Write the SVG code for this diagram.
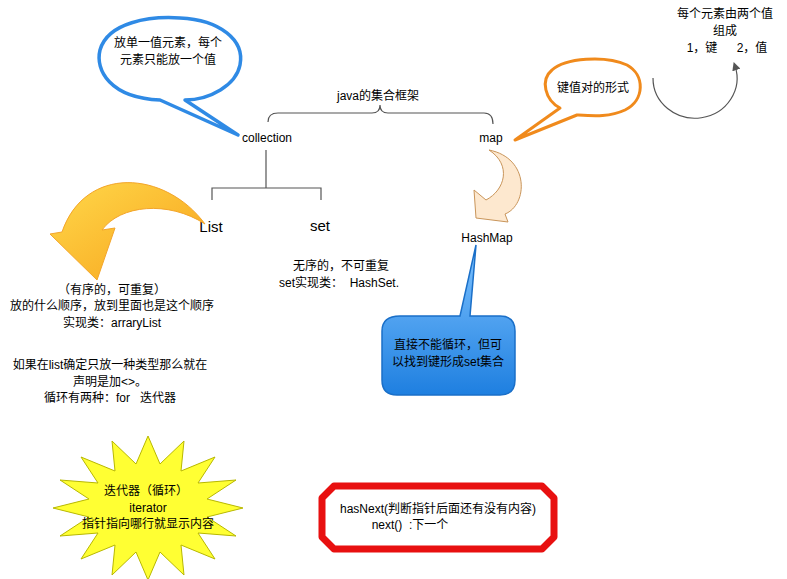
<svg xmlns="http://www.w3.org/2000/svg" width="787" height="579" viewBox="0 0 787 579">
<style>
text{font-family:"Liberation Sans","Noto Sans CJK SC",sans-serif;font-size:12px;fill:#000;text-anchor:middle}
.ln{fill:none;stroke:#555;stroke-width:1.2}
.big{font-size:15px}
</style>
<defs>
<linearGradient id="og" x1="0" y1="0" x2="1" y2="1"><stop offset="0" stop-color="#ffd84a"/><stop offset="1" stop-color="#f7a21b"/></linearGradient>
<linearGradient id="bg" x1="0" y1="0" x2="0" y2="1"><stop offset="0" stop-color="#7fc3ff"/><stop offset="1" stop-color="#1e7fe0"/></linearGradient>
<marker id="ah" viewBox="0 0 10 10" refX="5" refY="5" markerWidth="7" markerHeight="7" orient="auto"><path d="M0,0 L10,5 L0,10 Z" fill="#555"/></marker>
</defs>
<rect width="787" height="579" fill="#fff"/>
<g id="connectors">
<path class="ln" d="M268,122 Q268,113 278,113 L372,113 Q380,113 380,105 Q380,113 388,113 L484,113 Q493,113 493,124"/>
<path class="ln" d="M266,150 L266,188 M212,200 L212,188 L321,188 L321,200"/>
<path class="ln" d="M653,78 A42,40 0 1 0 735,66" marker-end="url(#ah)"/>
</g>
<g id="blue-bubble">
<path d="M160,100 C110,98 95,70 100,50 C108,22 150,16 180,18 C220,20 245,40 240,65 C236,85 210,100 185,100 L238,135 Z" fill="#fff" stroke="#2f8ae5" stroke-width="3.5" stroke-linejoin="round"/>
<text x="168" y="47">放单一值元素，每个</text>
<text x="168" y="64">元素只能放一个值</text>
</g>
<g id="title"><text x="378" y="100">java的集合框架</text></g>
<g id="collection"><text x="267" y="142">collection</text></g>
<g id="map"><text x="491" y="142">map</text></g>
<g id="list"><text class="big" x="211" y="232">List</text></g>
<g id="set"><text class="big" x="320" y="231">set</text></g>
<g id="orange-bubble">
<path d="M560,108 C545,100 540,80 552,70 C565,58 605,55 627,65 C645,75 645,100 625,110 C610,117 595,116 577,115 L515,140 Z" fill="#fff" stroke="#f08a1c" stroke-width="3" stroke-linejoin="round"/>
<text x="593" y="92">键值对的形式</text>
</g>
<g id="kv-note">
<text x="725" y="18">每个元素由两个值</text>
<text x="725" y="35">组成</text>
<text x="702" y="52">1，键</text>
<text x="752" y="52">2，值</text>
</g>
<g id="list-arrow">
<path d="M205,224 C165,170 85,165 62,232 L50,234 L97,280 L115,228 L102,230 C120,205 168,200 205,224 Z" fill="url(#og)" stroke="#f3a52a" stroke-width="1"/>
</g>
<g id="map-arrow">
<path d="M489,150 C530,158 528,205 505,214 L508,222 L476,218 L474,190 L486,200 C505,190 512,165 489,150 Z" fill="#fde8cf" stroke="#c9955a" stroke-width="1"/>
</g>
<g id="hashmap"><text x="487" y="242">HashMap</text></g>
<g id="blue-box">
<path d="M400,316 L460,316 L476,245 L470,316 L500,316 Q515,316 515,331 L515,380 Q515,395 500,395 L397,395 Q382,395 382,380 L382,331 Q382,316 400,316 Z" fill="url(#bg)" stroke="#1a6fc8" stroke-width="1.5"/>
<text x="448" y="349">直接不能循环，但可</text>
<text x="448" y="366">以找到键形成set集合</text>
</g>
<g id="set-note">
<text x="341" y="270">无序的，不可重复</text>
<text x="339" y="287" xml:space="preserve">set实现类：  HashSet.</text>
</g>
<g id="list-note">
<text x="112" y="294">（有序的，可重复）</text>
<text x="112" y="310">放的什么顺序，放到里面也是这个顺序</text>
<text x="112" y="327">实现类：arraryList</text>
<text x="110" y="369">如果在list确定只放一种类型那么就在</text>
<text x="110" y="386">声明是加&lt;&gt;。</text>
<text x="110" y="402" xml:space="preserve">循环有两种：for   迭代器</text>
</g>
<g id="iterator-star">
<polygon points="243,508 207,517 236,536 198,533 215,559 181,545 184,575 160,552 148,580 136,552 112,575 115,545 81,559 98,533 60,536 89,517 53,508 89,499 60,480 98,483 81,457 115,471 112,441 136,464 148,436 160,464 184,441 181,471 215,457 198,483 236,480 207,499" fill="#ffff33" stroke="#b8b800" stroke-width="1"/>
<text x="146" y="495">迭代器（循环）</text>
<text x="148" y="512">iterator</text>
<text x="148" y="528">指针指向哪行就显示内容</text>
</g>
<g id="hasnext-box">
<polygon points="334,486 542,486 554,498 554,537 542,549 334,549 322,537 322,498" fill="#fff" stroke="#e81010" stroke-width="7" stroke-linejoin="round"/>
<text x="438" y="513">hasNext(判断指针后面还有没有内容)</text>
<text x="410" y="529" xml:space="preserve">next()  :下一个</text>
</g>
</svg>
